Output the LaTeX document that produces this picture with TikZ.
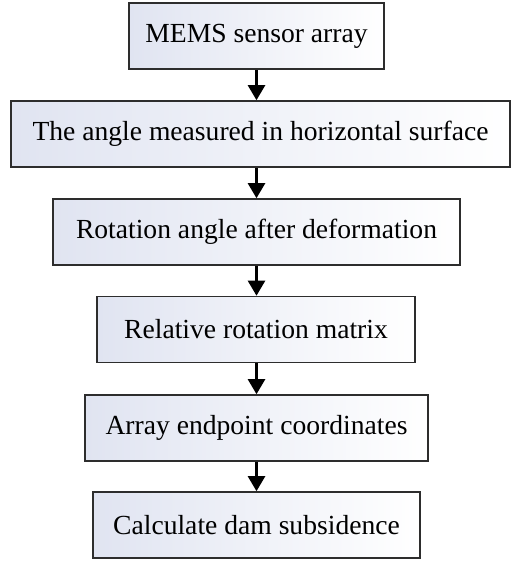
\documentclass[tikz,border=0pt]{standalone}
\usepackage{fontspec}
\setmainfont{Liberation Serif}
\usetikzlibrary{arrows.meta}
\definecolor{boxshade}{RGB}{224,228,241}
\definecolor{boxline}{RGB}{45,45,45}
\tikzset{
  flowbox/.style={draw=boxline, line width=1.6pt, left color=boxshade, right color=white,
    minimum height=66pt, inner sep=0pt, font=\fontsize{27.6}{30}\selectfont},
  flowarrow/.style={draw=black, line width=2.4pt, -{Triangle[length=15pt,width=17pt]}}
}
\begin{document}
\begin{tikzpicture}[x=1pt,y=-1pt]
\useasboundingbox (0,0) rectangle (522,562);
\node[flowbox, minimum width=255pt] (b1) at (256.5,36) {MEMS sensor array};
\node[flowbox, minimum width=499pt] (b2) at (260.5,134) {The angle measured in horizontal surface};
\node[flowbox, minimum width=407pt] (b3) at (256.5,232) {Rotation angle after deformation};
\node[flowbox, minimum width=318pt] (b4) at (256,329.5) {Relative rotation matrix};
\node[flowbox, minimum width=343pt] (b5) at (256.5,428) {Array endpoint coordinates};
\node[flowbox, minimum width=327pt] (b6) at (256.5,525) {Calculate dam subsidence};
\draw[flowarrow] (b1.south) -- (b1.south |- b2.north);
\draw[flowarrow] (b2.south -| b1.south) -- (b3.north);
\draw[flowarrow] (b3.south) -- (b4.north -| b3.south);
\draw[flowarrow] (b4.south -| b3.south) -- (b5.north -| b3.south);
\draw[flowarrow] (b5.south -| b3.south) -- (b6.north -| b3.south);
\end{tikzpicture}
\end{document}
